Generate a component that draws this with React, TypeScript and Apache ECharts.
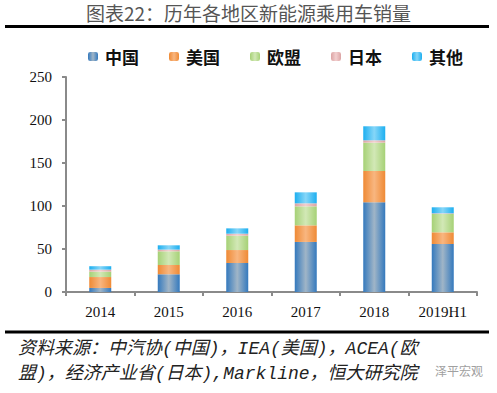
import React, { useEffect, useRef } from "react";
import * as echarts from "echarts";

const categories = ["2014", "2015", "2016", "2017", "2018", "2019H1"];
const seriesNames = ["中国", "美国", "欧盟", "日本", "其他"];
const china = [4.7, 20.6, 33.7, 58.2, 104.3, 55.8];
const usa = [12.7, 10.8, 15.1, 19.3, 36.4, 13.6];
const eu = [6.3, 15.9, 16.7, 22.1, 33.0, 21.3];
const japan = [2.3, 2.0, 2.3, 3.5, 2.7, 0.8];
const others = [4.0, 5.0, 6.2, 12.8, 16.3, 7.0];
const yTicks = [0, 50, 100, 150, 200, 250];

const seriesData = [china, usa, eu, japan, others];
const gradients: [string, string][] = [
  ["#3479bd", "#a0b5c7"],
  ["#ef8a35", "#f8b680"],
  ["#a6d176", "#d2e8b6"],
  ["#dca4a4", "#f2cfcf"],
  ["#1daff0", "#86d6f8"],
];

export default function App() {
  const ref = useRef<HTMLDivElement>(null);
  useEffect(() => {
    if (!ref.current) return;
    const chart = echarts.init(ref.current, undefined, { renderer: "svg" });
    const serif = "'Liberation Serif', 'DejaVu Serif', serif";
    const cjk = "'Noto Sans CJK SC', sans-serif";
    const footFont = "'Liberation Mono', 'Noto Sans CJK SC', monospace";
    chart.setOption({
      animation: false,
      backgroundColor: "#ffffff",
      legend: {
        data: seriesNames,
        left: 83,
        top: 43,
        itemWidth: 10,
        itemHeight: 9,
        itemGap: 30,
        textStyle: { fontFamily: cjk, fontWeight: "bold", fontSize: 17, color: "#111", padding: [0, 0, 0, 2] },
      },
      grid: { left: 66, right: 20, top: 77, bottom: 101, containLabel: false },
      xAxis: {
        type: "category",
        data: categories,
        axisLine: { lineStyle: { color: "#8a8a8a", width: 2 } },
        axisTick: { show: true, length: 4, lineStyle: { color: "#8a8a8a", width: 2 } },
        axisLabel: { fontFamily: serif, fontSize: 15, color: "#111", margin: 12 },
      },
      yAxis: {
        type: "value",
        min: yTicks[0],
        max: yTicks[yTicks.length - 1],
        interval: 50,
        splitLine: { show: false },
        axisLine: { show: true, lineStyle: { color: "#8a8a8a", width: 2 } },
        axisTick: { show: true, length: 4, lineStyle: { color: "#8a8a8a", width: 2 } },
        axisLabel: { fontFamily: serif, fontSize: 15, color: "#111", margin: 14 },
      },
      series: seriesNames.map((name, i) => ({
        name,
        type: "bar",
        stack: "total",
        barWidth: 22,
        data: seriesData[i],
        itemStyle: {
          color: new echarts.graphic.LinearGradient(0, 0, 1, 0, [
            { offset: 0, color: gradients[i][0] },
            { offset: 0.5, color: gradients[i][1] },
            { offset: 1, color: gradients[i][0] },
          ]),
        },
      })),
      graphic: [
        { type: "rect", left: 5, top: 25, shape: { width: 484, height: 3 }, style: { fill: "#000" } },
        { type: "rect", shape: { x: 5, y: 330.5, width: 484, height: 3 }, style: { fill: "#000" } },
        {
          type: "text",
          x: 248.5,
          y: 3,
          style: {
            text: "图表22：历年各地区新能源乘用车销量",
            fontFamily: cjk,
            fontSize: 19,
            fill: "#555",
            align: "center",
            verticalAlign: "top",
          },
        },
        {
          type: "text",
          x: 18,
          y: 349,
          style: {
            text: "资料来源：中汽协(中国)，IEA(美国)，ACEA(欧",
            fontFamily: footFont,
            fontStyle: "italic",
            fontSize: 18,
            fill: "#222",
            verticalAlign: "middle",
          },
        },
        {
          type: "text",
          x: 18,
          y: 374,
          style: {
            text: "盟)，经济产业省(日本),Markline，恒大研究院",
            fontFamily: footFont,
            fontStyle: "italic",
            fontSize: 18,
            fill: "#222",
            verticalAlign: "middle",
          },
        },
        {
          type: "text",
          x: 435,
          y: 370,
          style: { text: "泽平宏观", fontFamily: cjk, fontSize: 12, fill: "#a0a0a0", verticalAlign: "middle" },
        },
      ],
    });
    return () => chart.dispose();
  }, []);
  return (
    <div style={{ width: 497, height: 393, position: "absolute", left: 0, top: 0 }}>
      <div ref={ref} style={{ width: 497, height: 393, position: "absolute", left: 0, top: 0 }} />
      <div
        style={{ position: "absolute", left: 5, top: 25, width: 484, height: 3, background: "#000", zIndex: 10 }}
      />
    </div>
  );
}
